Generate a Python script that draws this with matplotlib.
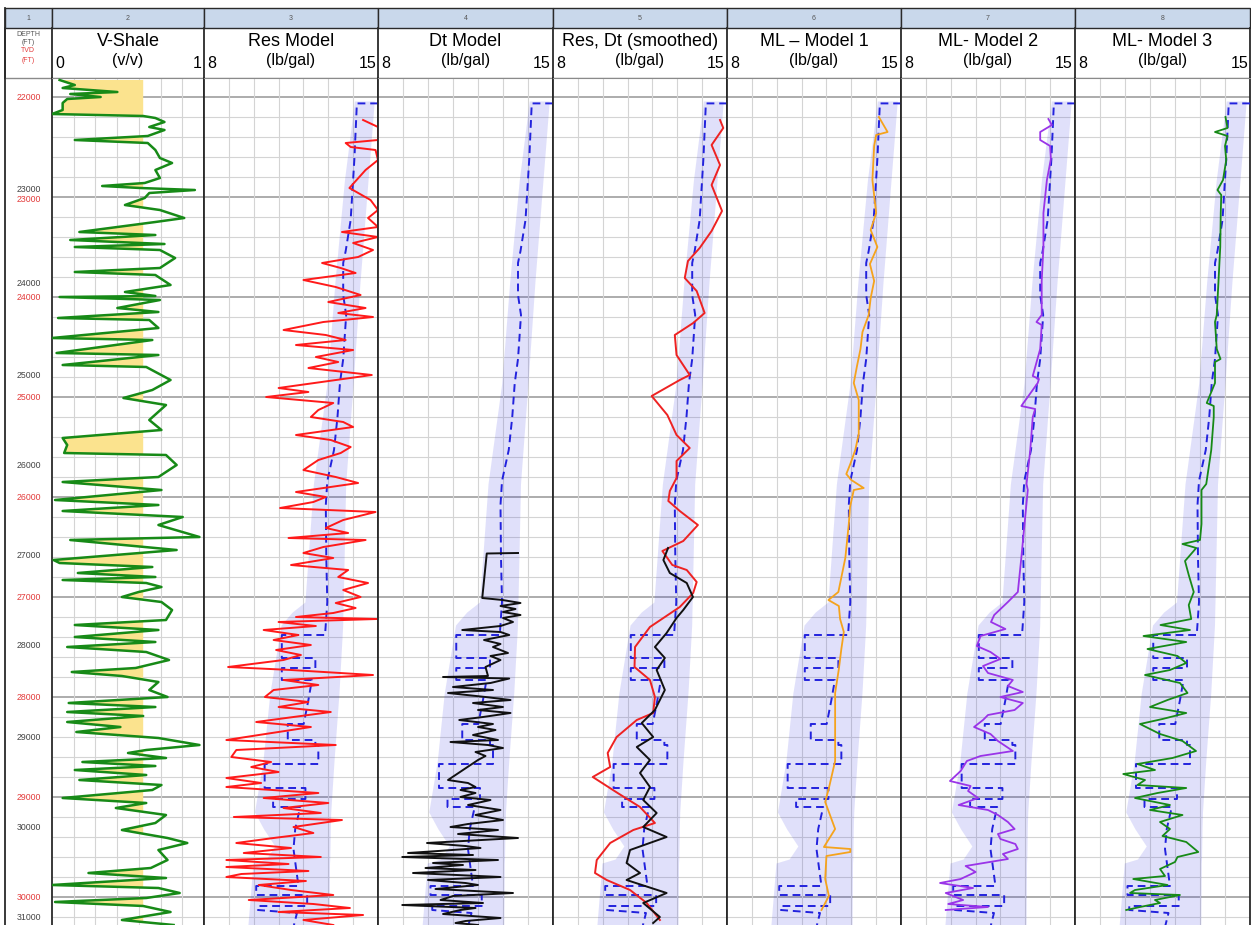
import matplotlib.pyplot as plt
from matplotlib.patches import Rectangle

plt.rcParams['font.family'] = ['Liberation Sans', 'DejaVu Sans']

# ---------------- data (depth = TVD ft) ----------------
track_titles = ['V-Shale', 'Res Model', 'Dt Model', 'Res, Dt (smoothed)',
                'ML \u2013 Model 1', 'ML- Model 2', 'ML- Model 3']
track_units = ['(v/v)'] + ['(lb/gal)'] * 6
scale_left = ['0', '8', '8', '8', '8', '8', '8']
scale_right = ['1', '15', '15', '15', '15', '15', '15']

tvd_labels = [22000, 23000, 24000, 25000, 26000, 27000, 28000, 29000, 30000]
tvd_label_pos = [22000, 23020, 24000, 25000, 26000, 27000, 28000, 29000, 30000]
md_labels = [23000, 24000, 25000, 26000, 27000, 28000, 29000, 30000, 31000]
md_label_tvd = [22920, 23860, 24790, 25690, 26590, 27490, 28400, 29310, 30210]

vsh_depth = [21830, 21880, 21910, 21950, 21970, 22000, 22020, 22060, 22130, 22170,
             22190, 22210, 22250, 22300, 22330, 22390, 22430, 22460, 22530, 22610,
             22660, 22730, 22810, 22860, 22890, 22910, 22930, 22960, 23010, 23080,
             23130, 23210, 23250, 23350, 23380, 23430, 23470, 23500, 23530, 23610,
             23710, 23750, 23780, 23880, 23950, 23990, 24000, 24030, 24110, 24150,
             24210, 24230, 24310, 24410, 24430, 24560, 24580, 24680, 24700, 24830,
             24930, 25010, 25080, 25230, 25330, 25410, 25480, 25560, 25580, 25680,
             25800, 25850, 25930, 26030, 26080, 26140, 26200, 26280, 26400, 26430,
             26530, 26630, 26660, 26700, 26760, 26800, 26830, 26860, 26900, 26950,
             27000, 27050, 27130, 27230, 27280, 27330, 27400, 27450, 27500, 27550,
             27630, 27710, 27750, 27790, 27850, 27930, 28000, 28060, 28100, 28150,
             28190, 28250, 28300, 28350, 28410, 28480, 28530, 28560, 28610, 28650,
             28690, 28730, 28780, 28830, 28880, 28930, 29010, 29060, 29110, 29180,
             29260, 29330, 29410, 29460, 29530, 29630, 29710, 29760, 29810, 29880,
             29910, 29960, 30010, 30050, 30090, 30150, 30230, 30280]
vsh = [0.05, 0.15, 0.07, 0.43, 0.12, 0.32, 0.10, 0.07, 0.07, 0.0,
       0.6, 0.68, 0.74, 0.64, 0.74, 0.63, 0.15, 0.63, 0.68, 0.71,
       0.79, 0.68, 0.71, 0.61, 0.33, 0.58, 0.94, 0.64, 0.61, 0.48,
       0.71, 0.87, 0.68, 0.18, 0.68, 0.12, 0.74, 0.15, 0.71, 0.81,
       0.71, 0.15, 0.68, 0.78, 0.48, 0.68, 0.05, 0.71, 0.43, 0.70,
       0.04, 0.64, 0.70, 0.0, 0.66, 0.03, 0.70, 0.07, 0.62, 0.78,
       0.66, 0.47, 0.75, 0.64, 0.72, 0.07, 0.10, 0.08, 0.75, 0.82,
       0.70, 0.07, 0.72, 0.02, 0.70, 0.07, 0.86, 0.70, 0.97, 0.12,
       0.82, 0.01, 0.05, 0.66, 0.17, 0.68, 0.07, 0.62, 0.72, 0.57,
       0.46, 0.72, 0.79, 0.75, 0.15, 0.70, 0.15, 0.68, 0.10, 0.62,
       0.77, 0.55, 0.13, 0.46, 0.70, 0.64, 0.76, 0.11, 0.68, 0.10,
       0.60, 0.10, 0.45, 0.16, 0.70, 0.97, 0.62, 0.50, 0.75, 0.20,
       0.68, 0.15, 0.62, 0.18, 0.72, 0.66, 0.07, 0.62, 0.42, 0.75,
       0.68, 0.46, 0.76, 0.89, 0.70, 0.76, 0.65, 0.24, 0.75, 0.0,
       0.70, 0.84, 0.62, 0.02, 0.60, 0.78, 0.46, 0.80]
vsh_cutoff = 0.6

res_depth = [22230, 22300, 22430, 22460, 22500, 22530, 22630, 22730, 22910, 23030,
             23130, 23210, 23300, 23350, 23400, 23460, 23530, 23600, 23660, 23710,
             23760, 23830, 23900, 23980, 24050, 24110, 24160, 24200, 24250, 24330,
             24380, 24430, 24480, 24530, 24600, 24650, 24710, 24780, 24830, 24910,
             24950, 25000, 25060, 25130, 25200, 25250, 25300, 25380, 25430, 25500,
             25560, 25630, 25730, 25800, 25860, 25950, 26000, 26050, 26110, 26150,
             26230, 26310, 26360, 26410, 26430, 26500, 26560, 26610, 26680, 26730,
             26800, 26860, 26930, 27000, 27060, 27110, 27160, 27200, 27220, 27250,
             27290, 27330, 27380, 27430, 27480, 27530, 27580, 27630, 27700, 27730,
             27780, 27830, 27880, 27930, 28000, 28050, 28100, 28150, 28200, 28250,
             28300, 28350, 28430, 28480, 28530, 28600, 28650, 28700, 28750, 28810,
             28860, 28900, 28960, 29010, 29060, 29110, 29160, 29200, 29230, 29300,
             29360, 29410, 29460, 29510, 29560, 29600, 29630, 29670, 29700, 29740,
             29770, 29800, 29840, 29880, 29930, 29980, 30030, 30070, 30110, 30150,
             30180, 30230, 30280]
res_ppg = [14.4, 15.0, 15.0, 13.7, 13.9, 14.9, 15.0, 14.5, 13.85, 14.7,
           15.0, 14.6, 15.0, 13.55, 15.0, 14.0, 14.8, 14.2, 12.75, 13.5,
           14.1, 12.0, 13.3, 14.3, 13.0, 14.5, 13.4, 14.8, 12.8, 11.2,
           12.9, 13.7, 11.7, 14.0, 12.5, 13.4, 12.2, 14.75, 13.3, 11.0,
           12.2, 10.5, 13.2, 12.6, 12.3, 13.6, 14.0, 11.7, 13.1, 13.9,
           13.5, 12.6, 12.0, 13.3, 14.2, 11.7, 12.9, 12.4, 11.06, 14.9,
           13.6, 12.9, 13.8, 11.4, 14.5, 12.8, 12.0, 13.2, 11.5, 13.8,
           13.4, 14.6, 13.6, 14.3, 13.3, 14.1, 13.2, 11.7, 14.96, 11.0,
           12.5, 10.4, 11.8, 10.8, 12.3, 10.9, 11.9, 11.2, 8.97, 11.5,
           14.8, 11.2, 12.6, 10.8, 10.45, 12.2, 11.0, 13.1, 11.6, 10.1,
           12.3, 11.0, 8.9, 13.3, 9.3, 9.1, 10.7, 9.9, 11.0, 8.9,
           10.3, 8.9, 12.6, 10.4, 13.0, 11.2, 12.7, 9.2, 13.55, 11.6,
           12.4, 10.8, 9.3, 11.5, 9.6, 12.7, 8.9, 11.4, 8.9, 12.2,
           9.5, 8.9, 12.1, 10.2, 11.5, 13.2, 9.8, 12.4, 13.87, 11.0,
           14.4, 12.0, 13.2]

dt_depth = [26560, 26565, 27010, 27030, 27060, 27090, 27120, 27150, 27180, 27210,
            27250, 27290, 27330, 27350, 27380, 27430, 27470, 27500, 27560, 27590,
            27630, 27700, 27790, 27800, 27815, 27860, 27900, 27930, 27960, 28000,
            28030, 28060, 28100, 28130, 28160, 28200, 28230, 28270, 28300, 28330,
            28380, 28430, 28450, 28480, 28510, 28550, 28590, 28630, 28830, 28860,
            28900, 28930, 28960, 29000, 29030, 29080, 29130, 29180, 29230, 29270,
            29300, 29330, 29370, 29410, 29460, 29490, 29510, 29540, 29560, 29580,
            29600, 29630, 29660, 29680, 29710, 29730, 29760, 29800, 29830, 29860,
            29880, 29920, 29960, 29990, 30030, 30060, 30080, 30110, 30130, 30170,
            30210, 30240, 30260, 30280]
dt_ppg = [13.6, 12.35, 12.17, 12.98, 13.7, 12.9, 13.5, 13.0, 13.7, 13.0,
          13.4, 12.9, 11.37, 12.9, 13.25, 12.24, 12.9, 12.6, 13.2, 12.5,
          12.9, 12.3, 12.4, 10.6, 13.25, 12.5, 11.0, 12.6, 10.8, 12.3,
          13.3, 11.8, 13.0, 12.0, 13.3, 12.2, 11.25, 12.6, 12.0, 12.7,
          11.8, 12.8, 10.9, 12.4, 13.0, 11.9, 12.3, 12.0, 10.8, 11.6,
          11.9, 11.3, 11.9, 11.3, 12.5, 11.6, 12.9, 11.9, 13.0, 11.6,
          10.9, 12.8, 11.2, 13.6, 9.96, 11.5, 12.1, 10.4, 9.2, 11.8,
          8.97, 12.8, 10.2, 11.4, 9.9, 11.9, 9.4, 12.9, 10.0, 11.5,
          12.0, 10.3, 13.4, 11.0, 10.5, 12.2, 8.97, 11.9, 11.3, 10.6,
          12.9, 11.5, 11.1, 12.0]

res_smooth_depth = [22230, 22310, 22480, 22680, 22880, 23140, 23340, 23510, 23640, 23810,
                    23940, 24160, 24260, 24380, 24580, 24780, 24830, 24990, 25180, 25380,
                    25510, 25640, 25810, 25940, 26040, 26140, 26280, 26440, 26540, 26680,
                    26730, 26850, 26960, 27100, 27200, 27300, 27500, 27700, 27830, 28000,
                    28160, 28230, 28400, 28560, 28700, 28800, 28960, 29100, 29260, 29330,
                    29460, 29630, 29760, 29830, 29930, 30060, 30230]
res_smooth = [14.72, 14.85, 14.38, 14.72, 14.38, 14.8, 14.38, 13.9, 13.43, 13.3,
              13.78, 14.1, 13.64, 12.9, 12.97, 13.5, 13.1, 11.97, 12.6, 12.97,
              13.5, 12.97, 12.97, 12.7, 12.64, 13.1, 13.83, 13.24, 12.4, 12.8,
              13.38, 13.78, 13.64, 13.1, 12.5, 11.9, 11.3, 11.28, 11.9, 12.1,
              12.03, 11.37, 10.56, 10.2, 10.3, 9.6, 10.6, 11.5, 12.1, 11.23,
              10.3, 9.76, 9.69, 10.16, 11.1, 11.77, 12.3]

dt_smooth_depth = [26510, 26630, 26760, 26860, 27000, 27130, 27210, 27360, 27500, 27610,
                   27730, 27930, 28130, 28260, 28400, 28500, 28630, 28760, 28900, 29030,
                   29160, 29300, 29400, 29530, 29660, 29760, 29830, 29960, 30060, 30200,
                   30260]
dt_smooth = [12.63, 12.44, 12.7, 13.38, 13.63, 13.24, 12.97, 12.57, 12.1, 12.5,
             12.17, 12.5, 12.1, 11.57, 12.03, 11.37, 11.9, 11.5, 11.9, 11.63,
             12.17, 11.63, 12.57, 11.1, 10.96, 11.5, 10.96, 12.57, 11.63, 12.3,
             12.03]

ml1_depth = [22200, 22350, 22380, 22490, 22830, 23160, 23330, 23500, 23670, 23840,
             24010, 24180, 24350, 24520, 24690, 24860, 25030, 25200, 25370, 25530,
             25670, 25770, 25830, 25910, 25930, 26100, 26270, 26610, 26950, 27030,
             27090, 27220, 27350, 27520, 27720, 27960, 28300, 28640, 28910, 29050,
             29320, 29500, 29520, 29550, 29590, 29820, 29990, 30130]
ml1_ppg = [14.11, 14.46, 14.0, 13.92, 13.85, 14.0, 13.78, 14.05, 13.75, 13.92,
           13.78, 13.7, 13.45, 13.37, 13.23, 13.1, 13.3, 13.3, 13.3, 13.16,
           12.96, 12.8, 13.0, 13.5, 13.1, 12.95, 12.9, 12.76, 12.48, 12.08,
           12.5, 12.55, 12.7, 12.6, 12.5, 12.35, 12.35, 12.35, 12.1, 11.95,
           12.35, 11.9, 12.96, 12.96, 12.0, 11.95, 12.1, 11.8]

ml2_depth = [22220, 22280, 22350, 22430, 22490, 22620, 22830, 23160, 23500, 23840,
             24180, 24250, 24280, 24520, 24790, 24820, 24860, 25090, 25120, 25200,
             25530, 25870, 25930, 26270, 26610, 26950, 27050, 27180, 27250, 27320,
             27390, 27490, 27550, 27620, 27690, 27760, 27830, 27890, 27950, 28000,
             28060, 28130, 28180, 28230, 28300, 28370, 28440, 28540, 28590, 28640,
             28740, 28840, 28890, 28940, 29010, 29080, 29130, 29180, 29250, 29320,
             29370, 29420, 29470, 29520, 29570, 29620, 29690, 29750, 29820, 29860,
             29910, 29960, 30030, 30070, 30100, 30130]
ml2_ppg = [13.93, 14.07, 13.6, 13.6, 14.0, 14.03, 13.87, 13.73, 13.73, 13.66,
           13.66, 13.45, 13.66, 13.6, 13.3, 13.55, 13.5, 12.84, 13.4, 13.3,
           13.2, 13.05, 13.1, 12.97, 12.84, 12.7, 12.3, 11.75, 11.62, 12.2,
           11.2, 11.05, 11.6, 12.0, 11.3, 11.5, 12.5, 12.3, 12.9, 12.0,
           12.9, 12.57, 11.5, 11.3, 10.94, 11.6, 11.9, 12.5, 11.2, 10.65,
           10.4, 9.97, 10.8, 10.7, 11.1, 10.32, 11.5, 11.9, 12.3, 12.57,
           11.9, 12.0, 12.6, 12.7, 12.1, 12.3, 10.6, 11.0, 10.4, 9.57,
           10.9, 9.8, 10.5, 9.9, 11.5, 9.8]

ml3_depth = [22200, 22310, 22350, 22390, 22490, 22630, 22830, 22930, 22980, 23160,
             23500, 23840, 24180, 24250, 24520, 24620, 24650, 24860, 25060, 25090,
             25200, 25530, 25870, 25930, 26270, 26430, 26470, 26510, 26640, 26780,
             26950, 27080, 27220, 27280, 27330, 27390, 27450, 27520, 27590, 27660,
             27730, 27780, 27860, 27960, 28030, 28100, 28160, 28220, 28270, 28370,
             28440, 28540, 28610, 28670, 28730, 28770, 28830, 28880, 28910, 28960,
             29010, 29080, 29130, 29180, 29250, 29320, 29390, 29450, 29550, 29600,
             29650, 29720, 29790, 29820, 29880, 29930, 29960, 29980, 30030, 30060,
             30100, 30130]
ml3_ppg = [14.02, 14.1, 13.6, 14.1, 14.0, 14.05, 13.92, 13.7, 13.85, 13.83,
           13.81, 13.74, 13.67, 13.6, 13.67, 13.82, 13.6, 13.6, 13.27, 13.55,
           13.55, 13.45, 13.25, 13.06, 13.06, 13.0, 12.3, 12.85, 12.4, 12.55,
           12.75, 12.55, 12.65, 11.42, 12.6, 10.74, 12.45, 10.9, 12.1, 12.45,
           11.8, 10.8, 12.2, 12.5, 11.7, 11.0, 12.45, 11.5, 10.6, 11.4,
           12.3, 12.84, 11.9, 10.5, 11.2, 9.93, 10.8, 10.5, 12.45, 11.3,
           10.4, 11.8, 11.0, 12.3, 11.4, 11.8, 11.5, 12.45, 12.93, 12.1,
           12.0, 11.4, 11.6, 10.33, 11.7, 10.4, 10.2, 12.2, 11.2, 11.4,
           10.6, 10.05]

pp_depth = [22064, 22064, 22620, 23230, 23540, 23660, 23980, 24180, 24620, 24860,
            25200, 25530, 25840, 26080, 26610, 27050, 27380, 27380, 27610, 27610,
            27710, 27710, 27830, 27830, 28030, 28270, 28270, 28430, 28430, 28480,
            28480, 28670, 28670, 28910, 28910, 29020, 29020, 29100, 29100, 29320,
            29520, 29890, 29890, 29980, 29980, 30090, 30090, 30130, 30160, 30300]
pp_ppg = [15.0, 14.15, 14.05, 13.9, 13.7, 13.6, 13.6, 13.72, 13.6, 13.47,
          13.37, 13.23, 12.96, 12.9, 12.92, 12.96, 12.87, 11.13, 11.13, 12.48,
          12.48, 11.13, 11.13, 12.34, 12.2, 12.01, 11.37, 11.37, 12.48, 12.48,
          12.6, 12.6, 10.44, 10.44, 12.08, 12.08, 10.78, 10.78, 11.87, 11.67,
          11.6, 11.8, 10.1, 10.1, 12.15, 12.15, 10.17, 10.17, 11.74, 11.6]

band_depth = [22040, 22830, 23840, 24860, 25870, 27050, 27150, 27280, 27960, 28640,
              29150, 29320, 29490, 29620, 29660, 30300]
band_lo = [14.05, 13.65, 13.27, 12.95, 12.4, 12.06, 11.55, 11.1, 10.65, 10.37,
           10.03, 10.4, 10.85, 10.5, 9.97, 9.76]
band_hi = [14.85, 14.6, 14.28, 14.0, 13.7, 13.6, 13.59, 13.58, 13.43, 13.23,
           13.1, 13.08, 13.07, 13.06, 13.05, 13.03]

# ---------------- layout (pixels) ----------------
W, H = 1251, 925
edges = [5, 52, 204, 378, 553, 727, 901, 1075, 1250]
TOP, BOT = 78, 925
DEPTH_TOP, DEPTH_BOT = 21810, 30280

fig = plt.figure(figsize=(W / 100, H / 100), dpi=100)


def px_axes(x0, y0, x1, y1):
    return fig.add_axes([x0 / W, 1 - y1 / H, (x1 - x0) / W, (y1 - y0) / H])


frame = px_axes(0, 0, W, H)
frame.set_xlim(0, W)
frame.set_ylim(H, 0)
frame.axis('off')

# header bar with track numbers
for i in range(8):
    x0, x1 = edges[i], edges[i + 1]
    frame.add_patch(Rectangle((x0, 8), x1 - x0, 20, fc='#c9d8eb', ec='#2a2a2a', lw=1.0))
    frame.text((x0 + x1) / 2, 18, str(i + 1), fontsize=5, color='#555555',
               ha='center', va='center')
for x in edges:
    frame.plot([x, x], [28, TOP], color='#2a2a2a', lw=1.3)
frame.plot([edges[0], edges[-1]], [77.5, 77.5], color='#8a8a8a', lw=1.0)
frame.plot([edges[0], edges[0]], [8, H], color='#2a2a2a', lw=1.3)

# depth header text
frame.text(28, 34, 'DEPTH', fontsize=5, color='#555555', ha='center', va='center')
frame.text(28, 43, '(FT)', fontsize=5, color='#555555', ha='center', va='center')
frame.text(28, 51, 'TVD', fontsize=5, color='#e33b3b', ha='center', va='center')
frame.text(28, 60, '(FT)', fontsize=5, color='#e33b3b', ha='center', va='center')

for i in range(7):
    x0, x1 = edges[i + 1], edges[i + 2]
    frame.text((x0 + x1) / 2, 42, track_titles[i], fontsize=13, ha='center', va='center')
    frame.text((x0 + x1) / 2, 61, track_units[i], fontsize=11.5, ha='center', va='center')
    frame.text(x0 + 3, 63, scale_left[i], fontsize=11.5, ha='left', va='center')
    frame.text(x1 - 2, 63, scale_right[i], fontsize=11.5, ha='right', va='center')


def style_track(ax, xmin, xmax, ndiv=7):
    ax.set_xlim(xmin, xmax)
    ax.set_ylim(DEPTH_BOT, DEPTH_TOP)
    ax.set_xticks([])
    ax.set_yticks([])
    for d in range(21800, 30400, 200):
        major = d % 1000 == 0
        ax.axhline(d, color='#a6a6a6' if major else '#d4d4d4',
                   lw=1.3 if major else 0.8, zorder=0)
    for k in range(1, ndiv):
        ax.axvline(xmin + (xmax - xmin) * k / ndiv, color='#d4d4d4', lw=0.8, zorder=0)
    for s in ['left', 'right']:
        ax.spines[s].set_color('#2a2a2a')
        ax.spines[s].set_linewidth(1.3)
    ax.spines['top'].set_color('#8a8a8a')
    ax.spines['bottom'].set_visible(False)


# depth track
dax = px_axes(edges[0], TOP, edges[1], BOT)
dax.set_xlim(0, 1)
dax.set_ylim(DEPTH_BOT, DEPTH_TOP)
dax.axis('off')
for v, d in zip(tvd_labels, tvd_label_pos):
    dax.text(0.5, d, str(v), fontsize=6.3, color='#e33b3b', ha='center', va='center')
for v, d in zip(md_labels, md_label_tvd):
    dax.text(0.5, d, str(v), fontsize=6.3, color='#444444', ha='center', va='center')

# V-shale
ax = px_axes(edges[1], TOP, edges[2], BOT)
style_track(ax, 0, 1)
ax.fill_betweenx(vsh_depth, vsh, vsh_cutoff, where=[v < vsh_cutoff for v in vsh],
                 interpolate=True, color='#fbe38e', lw=0, zorder=1)
ax.plot(vsh, vsh_depth, color='#178a17', lw=1.8, zorder=3)

# pressure tracks
curves = [
    [(res_ppg, res_depth, '#ff1a1a', 1.4)],
    [(dt_ppg, dt_depth, '#111111', 1.4)],
    [(res_smooth, res_smooth_depth, '#ee2222', 1.4),
     (dt_smooth, dt_smooth_depth, '#111111', 1.4)],
    [(ml1_ppg, ml1_depth, '#f5a31c', 1.3)],
    [(ml2_ppg, ml2_depth, '#9a34e8', 1.3)],
    [(ml3_ppg, ml3_depth, '#178a17', 1.3)],
]
for i, tr in enumerate(curves):
    ax = px_axes(edges[i + 2], TOP, edges[i + 3], BOT)
    style_track(ax, 8, 15)
    ax.fill_betweenx(band_depth, band_lo, band_hi, color='#3535e0', alpha=0.15,
                     lw=0, zorder=1)
    ax.plot(pp_ppg, pp_depth, color='#2222dd', lw=1.4, ls=(0, (4, 2.5)), zorder=3)
    for vals, dep, col, lw in tr:
        ax.plot(vals, dep, color=col, lw=lw, zorder=4)

fig.savefig('out.png', dpi=100)
